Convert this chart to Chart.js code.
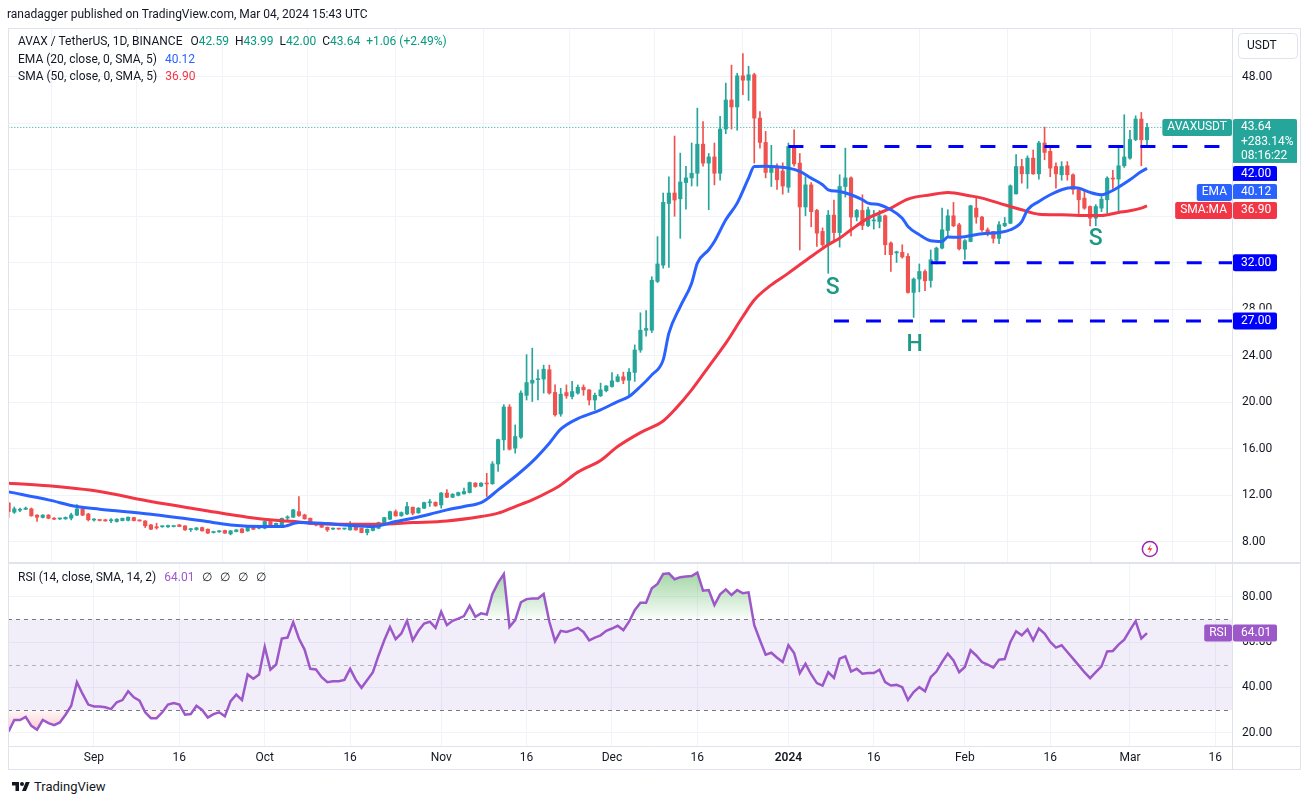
<!DOCTYPE html>
<html>
<head>
<meta charset="utf-8">
<script src="https://cdn.jsdelivr.net/npm/chart.js@4.4.1/dist/chart.umd.min.js"></script>
<style>
  html, body { margin: 0; padding: 0; background: #fff; }
  body { width: 1312px; height: 805px; position: relative; overflow: hidden; font-family: Roboto, "Open Sans", sans-serif; color: #131722; }
  canvas { position: absolute; left: 0; }
  #main { top: 0; }
  #rsi { top: 563px; }
  .txt { position: absolute; font-size: 12px; line-height: 16px; white-space: nowrap; }
  .txt span { margin-left: 6px; }
  .txt span.k { margin-left: 8px; }
  #logo { position: absolute; left: 12px; top: 779px; font-size: 13px; line-height: 16px; display: flex; align-items: center; gap: 4px; }
</style>
</head>
<body>
<canvas id="main" width="1312" height="563"></canvas>
<canvas id="rsi" width="1312" height="207"></canvas>

<div class="txt" style="left:7px;top:6px">ranadagger published on TradingView.com, Mar 04, 2024 15:43 UTC</div>
<div class="txt" id="lg1" style="left:18px;top:33px"></div>
<div class="txt" id="lg2" style="left:18px;top:51px"></div>
<div class="txt" id="lg3" style="left:18px;top:68px"></div>
<div class="txt" id="lgR" style="left:18px;top:569px"></div>
<div id="logo"><svg width="18" height="14" viewBox="0 0 36 28"><path d="M14 22H7V11H0V4h14v18zM28 22h-8l7.5-18h8L28 22z" fill="#131722"/><circle cx="20" cy="8" r="4" fill="#131722"/></svg><span>TradingView</span></div>

<script>
// AVAX / USDT daily, 17 Aug 2023 .. 4 Mar 2024 (index 0 = 17 Aug)
const opens = [
  11.35, 10.55, 10.72, 10.8, 10.84, 10.3, 10.1, 10.3, 10.03, 9.97,
  9.98, 10.04, 10.3, 10.84, 10.4, 9.88, 9.85, 9.9, 9.82, 9.75,
  9.83, 9.85, 10.09, 9.86, 9.8, 9.46, 9.3, 9.3, 9.29, 9.32,
  9.46, 9.37, 9.05, 9.06, 9.23, 9.09, 8.8, 8.86, 8.98, 8.69,
  8.89, 9.12, 8.95, 9.32, 9.17, 9.17, 9.75, 9.32, 9.3, 10.05,
  10.12, 10.6, 10.32, 10.03, 9.55, 9.55, 9.26, 9.1, 9.12, 9.11,
  9.03, 9.32, 9.18, 8.8, 8.98, 9.17, 9.6, 9.95, 10.6, 10.24,
  10.4, 10.98, 10.5, 10.9, 11.36, 11.4, 11.18, 12.2, 11.84, 12.0,
  12.13, 12.24, 13.05, 12.8, 13.05, 13.0, 14.7, 16.78, 19.6, 16.06,
  17.0, 20.6, 21.65, 21.95, 22.0, 22.8, 20.85, 19.0, 20.84, 20.5,
  20.79, 21.3, 21.07, 20.2, 20.56, 21.0, 21.36, 21.8, 22.2, 21.9,
  22.57, 24.5, 26.2, 26.2, 30.4, 31.8, 37.1, 38.0, 37.5, 38.9,
  39.3, 39.7, 42.2, 40.57, 41.1, 39.7, 43.5, 46.0, 45.4, 48.08,
  47.7, 48.17, 44.44, 42.35, 39.77, 40.2, 39.9, 38.5, 42.0, 40.57,
  36.8, 38.7, 36.5, 34.7, 33.55, 36.1, 34.6, 38.56, 39.3, 35.93,
  36.5, 35.2, 35.6, 35.55, 36.04, 33.7, 32.85, 32.9, 32.55, 29.45,
  30.6, 31.25, 30.48, 32.2, 33.26, 34.78, 36.04, 35.27, 33.17, 33.83,
  36.7, 35.93, 34.84, 34.7, 34.1, 35.18, 35.4, 37.93, 40.28, 39.65,
  41.0, 39.65, 42.3, 41.58, 40.28, 39.57, 40.34, 39.57, 38.3, 37.56,
  36.84, 35.84, 36.7, 37.42, 39.28, 39.2, 40.34, 41.0, 42.6, 44.36,
  42.59
];
const highs = [
  11.4, 11.0, 10.9, 11.0, 10.92, 10.35, 10.35, 10.35, 10.08, 10.05,
  10.15, 10.47, 11.2, 10.9, 10.45, 10.0, 9.9, 9.95, 10.0, 10.0,
  10.05, 10.15, 10.12, 9.9, 9.83, 9.5, 9.6, 9.38, 9.45, 9.36,
  9.5, 9.4, 9.17, 9.25, 9.28, 9.12, 8.92, 8.98, 9.02, 8.98,
  9.06, 9.15, 9.35, 9.36, 9.42, 9.8, 9.78, 9.62, 10.05, 10.25,
  10.8, 11.9, 10.38, 10.06, 9.6, 9.58, 9.28, 9.18, 9.16, 9.15,
  9.75, 9.35, 9.2, 9.12, 9.42, 9.7, 10.12, 10.65, 10.75, 10.58,
  11.4, 11.0, 10.95, 11.42, 11.65, 11.45, 12.25, 12.5, 12.15, 12.28,
  12.62, 13.15, 13.1, 13.1, 13.9, 14.9, 16.85, 19.8, 19.8, 18.06,
  21.0, 24.1, 24.66, 22.8, 23.2, 23.2, 21.5, 21.2, 21.5, 21.8,
  21.5, 21.5, 21.1, 20.8, 21.65, 21.45, 22.56, 22.4, 22.6, 22.9,
  24.94, 27.7, 27.9, 30.8, 34.25, 38.0, 39.4, 42.9, 41.43, 40.3,
  42.3, 45.3, 44.15, 41.4, 42.3, 44.6, 47.45, 49.0, 48.3, 50.0,
  48.9, 48.3, 45.0, 43.3, 42.1, 40.5, 40.6, 42.3, 43.44, 41.4,
  39.4, 38.9, 36.6, 35.0, 36.5, 37.4, 39.57, 41.86, 39.4, 36.6,
  37.85, 36.8, 36.5, 36.5, 36.1, 33.8, 33.0, 33.55, 32.8, 30.7,
  31.9, 31.4, 33.1, 33.35, 36.7, 36.56, 37.19, 35.4, 34.0, 36.95,
  37.56, 36.0, 35.0, 34.7, 35.55, 35.9, 38.7, 41.3, 40.9, 41.2,
  41.7, 42.45, 43.67, 41.9, 40.6, 40.7, 40.7, 39.65, 38.5, 38.3,
  36.9, 37.0, 37.7, 39.4, 39.94, 42.0, 44.73, 43.38, 44.64, 44.93,
  43.99
];
const lows = [
  10.1, 10.45, 10.6, 10.78, 10.2, 9.75, 10.05, 9.98, 9.9, 9.92,
  9.94, 9.89, 10.25, 10.25, 9.8, 9.78, 9.8, 9.78, 9.66, 9.7,
  9.8, 9.8, 9.8, 9.78, 9.23, 9.05, 9.1, 9.25, 9.25, 9.28,
  9.3, 8.98, 8.89, 9.0, 8.92, 8.72, 8.76, 8.82, 8.72, 8.6,
  8.85, 8.78, 8.9, 9.05, 9.12, 9.12, 9.3, 9.28, 9.25, 9.9,
  10.1, 10.2, 9.95, 9.5, 9.38, 9.24, 8.9, 9.05, 9.08, 9.07,
  9.0, 9.0, 8.78, 8.6, 8.95, 9.12, 9.55, 9.9, 10.2, 10.2,
  10.35, 10.32, 10.45, 10.85, 11.05, 11.05, 10.9, 11.8, 11.8, 11.95,
  12.1, 12.2, 12.7, 12.75, 11.9, 12.95, 14.05, 15.9, 15.9, 15.63,
  16.9, 20.2, 20.07, 20.2, 20.8, 20.7, 18.8, 18.8, 20.35, 20.3,
  20.7, 20.6, 19.78, 19.35, 20.5, 20.9, 21.3, 21.75, 21.6, 20.6,
  21.8, 24.3, 25.7, 26.0, 30.3, 31.54, 31.6, 36.0, 34.1, 36.6,
  38.6, 38.6, 40.3, 36.56, 38.7, 39.1, 43.1, 43.5, 43.4, 46.45,
  45.96, 40.57, 41.86, 39.3, 38.56, 38.3, 37.9, 38.05, 40.3, 33.1,
  36.04, 35.1, 33.4, 33.4, 31.1, 33.8, 33.35, 37.65, 34.3, 35.6,
  34.84, 35.1, 34.9, 35.0, 32.7, 31.25, 32.03, 32.4, 29.39, 27.3,
  29.5, 29.6, 29.9, 31.9, 33.2, 34.27, 35.1, 33.1, 32.3, 33.8,
  35.4, 34.7, 34.3, 33.7, 33.65, 35.1, 35.35, 37.9, 38.85, 38.4,
  39.6, 39.2, 40.86, 39.4, 38.42, 39.1, 39.1, 37.9, 36.13, 36.6,
  35.18, 35.18, 36.4, 36.27, 38.4, 36.27, 40.2, 40.9, 42.5, 40.34,
  42.0
];
const closes = [
  10.6, 10.84, 10.78, 10.9, 10.24, 10.12, 10.3, 10.03, 9.95, 10.0,
  10.1, 10.32, 10.84, 10.3, 9.9, 9.92, 9.84, 9.8, 9.85, 9.95,
  10.03, 10.12, 9.83, 9.8, 9.38, 9.09, 9.2, 9.33, 9.4, 9.34,
  9.32, 9.03, 9.1, 9.2, 8.95, 8.75, 8.89, 8.95, 8.75, 8.95,
  9.03, 8.8, 9.32, 9.09, 9.38, 9.75, 9.32, 9.6, 10.03, 10.15,
  10.75, 10.27, 9.98, 9.52, 9.45, 9.26, 9.03, 9.13, 9.1, 9.13,
  9.46, 9.03, 8.8, 9.09, 9.38, 9.66, 10.09, 10.6, 10.24, 10.52,
  11.04, 10.46, 10.9, 11.38, 11.4, 11.1, 12.2, 11.84, 12.1, 12.24,
  12.33, 13.1, 12.76, 13.05, 12.98, 14.7, 16.8, 19.6, 15.97, 17.06,
  20.8, 21.7, 21.9, 22.0, 22.85, 20.8, 18.93, 20.7, 20.56, 20.93,
  21.3, 21.07, 20.2, 20.6, 21.07, 21.4, 21.85, 22.2, 21.9, 22.6,
  24.5, 26.2, 26.35, 30.5, 31.9, 37.2, 38.0, 37.4, 38.95, 39.3,
  39.7, 42.2, 40.57, 41.1, 39.7, 43.5, 46.0, 45.4, 48.08, 47.7,
  48.17, 44.44, 42.35, 39.77, 40.2, 39.14, 38.6, 42.0, 40.5, 36.8,
  38.7, 36.4, 34.55, 33.55, 36.1, 34.6, 38.56, 39.3, 35.93, 36.5,
  35.2, 36.55, 35.65, 36.04, 33.55, 32.7, 32.95, 32.5, 29.45, 30.6,
  31.25, 30.45, 32.26, 33.26, 34.84, 36.04, 35.18, 33.2, 33.9, 36.9,
  35.93, 34.84, 34.5, 34.1, 35.27, 35.4, 38.62, 40.28, 39.65, 41.0,
  39.65, 42.3, 41.49, 40.14, 39.65, 40.28, 39.57, 38.3, 37.42, 36.7,
  35.84, 36.84, 37.47, 39.28, 39.2, 40.34, 41.1, 42.6, 44.36, 42.58,
  43.64
];

// RSI(14), one value per candle
const rsiVals = [
  20.5, 25.6, 25.6, 27, 23, 21.3, 25.6, 24.2, 23.3, 24.5,
  27.9, 31.9, 42.3, 37.1, 32.4, 31.6, 31.5, 31.2, 30.4, 33.4,
  34.4, 38.3, 35.6, 34.1, 29, 26.4, 26.4, 29, 32.4, 33.1,
  32.4, 27.9, 28.2, 31.9, 30, 26.7, 28.2, 29, 27.2, 33.9,
  36.8, 34.4, 45.7, 43.8, 45.7, 57.9, 47.8, 50.1, 61.6, 62,
  68.8, 61.6, 56.7, 48.2, 47.9, 44.5, 42.3, 42.7, 42.7, 43.3,
  48.2, 43.3, 39.8, 43.3, 46.7, 54.1, 60.8, 66.7, 61.3, 63.8,
  69.4, 60.8, 65, 68.2, 69, 66.3, 73.4, 67.5, 69.4, 70.4,
  71.5, 76.1, 71.2, 72.7, 72.2, 81.3, 86.3, 90.1, 66.7, 69.7,
  77.6, 79, 79.3, 79.3, 81.3, 69, 60.4, 65, 64.5, 65.3,
  66.3, 64.5, 60.8, 62, 63, 65, 66, 67.2, 65.3, 69,
  74.1, 77.4, 77.4, 83.8, 85.7, 90.1, 90.4, 87.8, 88.7, 89,
  89.2, 90.7, 82.7, 83, 76.4, 81.1, 83.3, 80.8, 83, 81.6,
  82, 67.5, 60.8, 54.4, 55.3, 53.1, 51.2, 58.6, 55.2, 46.3,
  50.4, 45.7, 41.9, 40.8, 46.7, 44.2, 52.7, 53.7, 47, 48.2,
  46, 46.3, 46.3, 47.8, 42.3, 40.8, 41.1, 40.1, 34.4, 37.9,
  40.1, 38.3, 44.5, 47, 51.2, 54.9, 51.9, 46.7, 49, 56.4,
  54.1, 51.2, 50.1, 48.7, 52.2, 52.5, 60.1, 64.8, 63, 65.6,
  60.8, 66, 63.8, 60.1, 57.6, 58.6, 55.6, 52.7, 49.7, 46.7,
  44.1, 46.7, 49.3, 55.9, 56.1, 58.9, 61.1, 65.3, 69.3, 61.6,
  64.01
];

// EMA 20 and SMA 50: [candle index, value]
const emaPts = [
  [0, 12.3], [7, 11.61], [12, 11.04], [16, 10.81], [25, 10.38], [34, 9.81], [39, 9.46], [45, 9.32],
  [48, 9.32], [51, 9.66], [55, 9.6], [59, 9.46], [64, 9.32], [68, 9.75], [71, 10.04], [74, 10.38],
  [77, 10.75], [80, 11.04], [83, 11.38], [84, 11.67], [86, 12.47], [89, 13.62], [92, 14.9], [95, 16.49],
  [97, 17.69], [100, 18.6], [104, 19.35], [107, 20.07], [109, 20.5], [111, 21.36], [113, 22.36], [115, 23.65],
  [116, 25.95], [118, 28.24], [120, 30.25], [121, 31.97], [123, 33.12], [124, 33.83], [126, 35.7], [128, 37.13],
  [130, 39.28], [131, 40.28], [133, 40.3], [135, 40.25], [137, 40.14], [139, 39.86], [141, 39.28], [143, 38.71],
  [144, 38.28], [146, 38.13], [148, 37.85], [150, 37.42], [151, 37.13], [153, 36.99], [155, 36.56], [157, 35.84],
  [158, 35.12], [160, 34.41], [162, 33.89], [164, 33.83], [165, 34.21], [167, 34.2], [171, 34.5], [174, 34.61],
  [176, 34.84], [178, 35.55], [179, 36.56], [181, 37.27], [183, 37.85], [185, 38.28], [187, 38.48], [188, 38.42],
  [190, 38.05], [192, 37.85], [193, 37.99], [195, 38.51], [197, 39.14], [199, 39.85], [200, 40.12]
];
const smaPts = [
  [0, 13.05], [7, 12.82], [16, 12.33], [25, 11.47], [34, 10.75], [42, 10.12], [48, 9.81], [51, 9.72],
  [53, 9.6], [59, 9.52], [65, 9.52], [71, 9.66], [77, 9.8], [83, 10.18], [86, 10.47], [89, 11.04],
  [92, 11.61], [95, 12.33], [97, 12.9], [100, 14.0], [104, 15.0], [107, 16.2], [111, 17.4], [115, 18.4],
  [117, 19.35], [120, 21.07], [123, 23.08], [126, 25.09], [129, 27.38], [131, 28.8], [134, 30.1], [137, 31.11],
  [141, 32.54], [144, 33.55], [146, 34.12], [148, 34.84], [151, 35.84], [155, 36.7], [158, 37.48], [162, 37.85],
  [165, 38.05], [169, 37.75], [171, 37.56], [174, 37.13], [178, 36.56], [181, 36.18], [185, 36.13], [188, 36.07],
  [192, 36.07], [195, 36.33], [197, 36.47], [199, 36.7], [200, 36.9]
];

// horizontal levels drawn on the chart and where they start
const levels = [42, 32, 27];
const levelFrom = [137, 162, 145];

// axis ticks
const priceTicks = [8, 12, 16, 20, 24, 28, 32, 36, 40, 44, 48];
const rsiTicks = [20, 40, 60, 80];
const tickIdx = [15, 30, 45, 60, 76, 91, 106, 121, 137, 152, 168, 183, 197, 212];
const tickText = ['Sep', '16', 'Oct', '16', 'Nov', '16', 'Dec', '16', '2024', '16', 'Feb', '16', 'Mar', '16'];

// head & shoulders labels
const patText = ['S', 'H', 'S'];
const patIdx = [144.8, 159.2, 191];
const patPrice = [29.8, 24.9, 34.0];

const lastInfo = ['+283.14%', '08:16:22'];

const FONT = 'Roboto, "Open Sans", sans-serif';
const UP = '#26a69a', DOWN = '#ef5350';
const EMA_C = '#2962ff', SMA_C = '#f23645', LVL_C = '#0000ff', RSI_C = '#9c57c9';
const GRID = '#f0f3fa', FRAME = '#e0e3eb';
const X_MIN = -0.105, X_MAX = 214.93;

Chart.defaults.font.family = FONT;
Chart.defaults.font.size = 12;
Chart.defaults.color = '#131722';
Chart.defaults.animation = false;

const last = closes.length - 1;

function xAxis(showLabels) {
  return {
    type: 'linear', min: X_MIN, max: X_MAX, offset: false,
    afterBuildTicks: s => { s.ticks = tickIdx.map(v => ({ value: v })); },
    afterFit: s => { s.height = showLabels ? 24 : 0; s.paddingLeft = 0; s.paddingRight = 0; },
    grid: { color: GRID, drawTicks: false },
    border: { display: false },
    ticks: {
      display: showLabels, autoSkip: false, maxRotation: 0, minRotation: 0, padding: 5,
      callback: v => tickText[tickIdx.indexOf(v)] ?? '',
      font: c => ({ family: FONT, size: 12, weight: (c.tick && tickText[tickIdx.indexOf(c.tick.value)] === '2024') ? '600' : '400' })
    }
  };
}

function yAxis(min, max, ticks) {
  return {
    type: 'linear', position: 'right', min: min, max: max,
    afterBuildTicks: s => { s.ticks = ticks.map(v => ({ value: v })); },
    afterFit: s => { s.width = 80; s.paddingTop = 0; s.paddingBottom = 0; },
    grid: { color: GRID, drawTicks: false },
    border: { display: false },
    ticks: { padding: 10, callback: v => v.toFixed(2), color: '#131722' }
  };
}

function roundBox(ctx, x, y, w, h, r, fill) {
  ctx.fillStyle = fill;
  ctx.beginPath();
  if (ctx.roundRect) ctx.roundRect(x, y, w, h, r); else ctx.rect(x, y, w, h);
  ctx.fill();
}

// axis badges: stacked so they never overlap
function drawBadges(chart, items) {
  const ctx = chart.ctx, ca = chart.chartArea, ys = chart.scales.y;
  ctx.save();
  ctx.font = '12px ' + FONT;
  ctx.textBaseline = 'middle';
  let prevBottom = -1e9;
  items.sort((a, b) => b.v - a.v).forEach(it => {
    const lineH = 14.5;
    const h = 17 + (it.lines.length - 1) * lineH;
    let top = ys.getPixelForValue(it.v) - 8.5;
    if (top < prevBottom + 1) top = prevBottom + 1;
    prevBottom = top + h;
    const x0 = ca.right + 1;
    const w = it.lines.length > 1 ? 64 : 44;
    // hide axis labels that sit right under a badge
    ctx.fillStyle = '#fff';
    ctx.fillRect(x0, top - 3, 66, h + 3);
    roundBox(ctx, x0, top, w, h, 2, it.bg);
    ctx.fillStyle = '#fff';
    ctx.textAlign = 'left';
    it.lines.forEach((t, j) => ctx.fillText(t, x0 + 8, top + 8.5 + j * lineH));
    if (it.tag) {
      const tw = ctx.measureText(it.tag).width + 10;
      roundBox(ctx, ca.right - tw, top, tw, 17, 2, it.bg);
      ctx.fillStyle = '#fff';
      ctx.textAlign = 'center';
      ctx.fillText(it.tag, ca.right - tw / 2, top + 8.5);
    }
  });
  ctx.restore();
}

function frameLines(chart, extra) {
  const ctx = chart.ctx, ca = chart.chartArea;
  ctx.save();
  ctx.strokeStyle = FRAME;
  ctx.lineWidth = 1;
  ctx.beginPath();
  [8.5, ca.right + 0.5, 1300.5].forEach(x => { ctx.moveTo(x, extra.top); ctx.lineTo(x, extra.bottom); });
  extra.h.forEach(y => { ctx.moveTo(8, y); ctx.lineTo(1301, y); });
  ctx.stroke();
  ctx.restore();
}

// ---------- main price pane ----------
const bodyData = closes.map((c, k) => ({ x: k, y: [opens[k], c] }));
const wickData = closes.map((c, k) => ({ x: k, y: [lows[k], highs[k]] }));
const candleCol = closes.map((c, k) => c >= opens[k] ? UP : DOWN);

const levelSets = levels.map((v, i) => ({
  type: 'line', data: [{ x: levelFrom[i], y: v }, { x: X_MAX + 2, y: v }],
  borderColor: LVL_C, borderWidth: 3, borderDash: [15, 17], pointRadius: 0, order: 0, clip: 0
}));

const mainPlugin = {
  id: 'mainDecor',
  afterDatasetsDraw(chart) {
    const ctx = chart.ctx, xs = chart.scales.x, ys = chart.scales.y;
    ctx.save();
    ctx.fillStyle = '#1e9986';
    ctx.font = '500 23px ' + FONT;
    ctx.textAlign = 'center';
    ctx.textBaseline = 'middle';
    patText.forEach((t, i) => ctx.fillText(t, xs.getPixelForValue(patIdx[i]), ys.getPixelForValue(patPrice[i])));
    // event marker under the last candle
    const cx = xs.getPixelForValue(last + 0.5), cy = chart.chartArea.bottom - 13;
    ctx.beginPath(); ctx.arc(cx, cy, 7.5, 0, Math.PI * 2);
    ctx.fillStyle = '#fff'; ctx.fill();
    ctx.strokeStyle = '#9c27b0'; ctx.lineWidth = 1.5; ctx.stroke();
    ctx.beginPath();
    ctx.moveTo(cx + 1.5, cy - 5); ctx.lineTo(cx - 2.5, cy + 0.8); ctx.lineTo(cx + 0.3, cy + 0.8);
    ctx.lineTo(cx - 1.5, cy + 5); ctx.lineTo(cx + 2.5, cy - 0.8); ctx.lineTo(cx - 0.3, cy - 0.8);
    ctx.closePath(); ctx.fillStyle = '#f23645'; ctx.fill();
    ctx.restore();
  },
  afterDraw(chart) {
    const ctx = chart.ctx, ca = chart.chartArea;
    frameLines(chart, { top: ca.top, bottom: chart.height, h: [ca.top + 0.5, chart.height - 0.5] });
    // currency box
    ctx.save();
    ctx.beginPath();
    if (ctx.roundRect) ctx.roundRect(1238.5, 33.5, 59, 25, 4); else ctx.rect(1238.5, 33.5, 59, 25);
    ctx.fillStyle = '#fff'; ctx.fill();
    ctx.strokeStyle = FRAME; ctx.lineWidth = 1; ctx.stroke();
    ctx.fillStyle = '#131722'; ctx.font = '12px ' + FONT; ctx.textBaseline = 'middle'; ctx.textAlign = 'left';
    ctx.fillText('USDT', 1247, 46);
    ctx.restore();
    const ema = emaPts[emaPts.length - 1][1], sma = smaPts[smaPts.length - 1][1];
    const items = [
      { v: closes[last], lines: [closes[last].toFixed(2)].concat(lastInfo), bg: UP, tag: 'AVAXUSDT' },
      { v: ema, lines: [ema.toFixed(2)], bg: EMA_C, tag: 'EMA' },
      { v: sma, lines: [sma.toFixed(2)], bg: SMA_C, tag: 'SMA:MA' }
    ];
    levels.forEach(v => items.push({ v: v, lines: [v.toFixed(2)], bg: LVL_C }));
    drawBadges(chart, items);
  }
};

new Chart(document.getElementById('main'), {
  type: 'bar',
  data: {
    datasets: levelSets.concat([
      { type: 'line', data: emaPts.map(p => ({ x: p[0], y: p[1] })), borderColor: EMA_C, borderWidth: 3, pointRadius: 0, cubicInterpolationMode: 'monotone', order: 1, clip: 0 },
      { type: 'line', data: smaPts.map(p => ({ x: p[0], y: p[1] })), borderColor: SMA_C, borderWidth: 3, pointRadius: 0, cubicInterpolationMode: 'monotone', order: 2, clip: 0 },
      { type: 'line', data: [{ x: X_MIN - 1, y: closes[last] }, { x: X_MAX + 1, y: closes[last] }], borderColor: UP, borderWidth: 1, borderDash: [1, 2], pointRadius: 0, order: 3, clip: 0 },
      { type: 'bar', data: bodyData, backgroundColor: candleCol, barThickness: 3.5, minBarLength: 1, grouped: false, order: 4, clip: 0 },
      { type: 'bar', data: wickData, backgroundColor: candleCol, barThickness: 1, minBarLength: 1, grouped: false, order: 5, clip: 0 }
    ])
  },
  options: {
    responsive: false,
    events: [],
    layout: { padding: { left: 8, top: 28, right: 0, bottom: 1 } },
    plugins: { legend: { display: false }, tooltip: { enabled: false } },
    scales: { x: xAxis(false), y: yAxis(6.27, 52.19, priceTicks) }
  },
  plugins: [mainPlugin]
});

// ---------- RSI pane ----------
const rsiData = rsiVals.map((v, k) => ({ x: k, y: v }));
const rsiPlugin = {
  id: 'rsiDecor',
  beforeDatasetsDraw(chart) {
    const ctx = chart.ctx, ca = chart.chartArea, ys = chart.scales.y;
    const y70 = ys.getPixelForValue(70), y50 = ys.getPixelForValue(50), y30 = ys.getPixelForValue(30);
    ctx.save();
    ctx.fillStyle = 'rgba(126,87,194,0.1)';
    ctx.fillRect(ca.left, y70, ca.width, y30 - y70);
    ctx.lineWidth = 1;
    ctx.setLineDash([4, 4]);
    ctx.strokeStyle = '#787b86';
    ctx.beginPath();
    [y70, y30].forEach(y => { ctx.moveTo(ca.left, Math.round(y) + 0.5); ctx.lineTo(ca.right, Math.round(y) + 0.5); });
    ctx.stroke();
    ctx.strokeStyle = 'rgba(120,123,134,0.5)';
    ctx.beginPath(); ctx.moveTo(ca.left, Math.round(y50) + 0.5); ctx.lineTo(ca.right, Math.round(y50) + 0.5); ctx.stroke();
    ctx.restore();
  },
  afterDraw(chart) {
    const ca = chart.chartArea;
    frameLines(chart, { top: 0, bottom: chart.height, h: [0.5, ca.bottom + 0.5, chart.height - 0.5] });
    const v = rsiVals[rsiVals.length - 1];
    drawBadges(chart, [{ v: v, lines: [v.toFixed(2)], bg: RSI_C, tag: 'RSI' }]);
  }
};

const rsiChart = new Chart(document.getElementById('rsi'), {
  type: 'line',
  data: {
    datasets: [
      { data: rsiData, borderColor: RSI_C, borderWidth: 2.5, pointRadius: 0, fill: false, order: 0, clip: 0 },
      { data: rsiData, borderColor: 'rgba(0,0,0,0)', borderWidth: 0, pointRadius: 0, order: 1, clip: 0,
        fill: { target: { value: 70 }, above: 'rgba(76,175,80,0.3)', below: 'rgba(0,0,0,0)' } },
      { data: rsiData, borderColor: 'rgba(0,0,0,0)', borderWidth: 0, pointRadius: 0, order: 2, clip: 0,
        fill: { target: { value: 30 }, above: 'rgba(0,0,0,0)', below: 'rgba(242,54,69,0.2)' } }
    ]
  },
  options: {
    responsive: false,
    events: [],
    layout: { padding: { left: 8, top: 1, right: 0, bottom: 0 } },
    plugins: { legend: { display: false }, tooltip: { enabled: false } },
    scales: { x: xAxis(true), y: yAxis(14.1, 94.4, rsiTicks) }
  },
  plugins: [rsiPlugin]
});

// gradient fills for the overbought / oversold areas
(function () {
  const ctx = rsiChart.ctx, ca = rsiChart.chartArea, ys = rsiChart.scales.y;
  const gUp = ctx.createLinearGradient(0, ca.top, 0, ys.getPixelForValue(70));
  gUp.addColorStop(0, 'rgba(76,175,80,0.6)');
  gUp.addColorStop(1, 'rgba(76,175,80,0.03)');
  const gDn = ctx.createLinearGradient(0, ys.getPixelForValue(30), 0, ca.bottom);
  gDn.addColorStop(0, 'rgba(242,54,69,0.03)');
  gDn.addColorStop(1, 'rgba(242,54,69,0.45)');
  rsiChart.data.datasets[1].fill.above = gUp;
  rsiChart.data.datasets[2].fill.below = gDn;
  rsiChart.update('none');
})();

// ---------- legends ----------
const chg = closes[last] - closes[last - 1];
const pct = chg / closes[last - 1] * 100;
const valCol = closes[last] >= opens[last] ? '#089981' : '#f23645';
const sign = n => (n >= 0 ? '+' : '') + n.toFixed(2);
const v = (t, c) => `<b style="font-weight:400;color:${c}">${t}</b>`;
document.getElementById('lg1').innerHTML =
  'AVAX / TetherUS, 1D, BINANCE' +
  `<span class="k">O${v(opens[last].toFixed(2), valCol)}</span>` +
  `<span>H${v(highs[last].toFixed(2), valCol)}</span>` +
  `<span>L${v(lows[last].toFixed(2), valCol)}</span>` +
  `<span>C${v(closes[last].toFixed(2), valCol)}</span>` +
  `<span>${v(sign(chg) + ' (' + sign(pct) + '%)', valCol)}</span>`;
document.getElementById('lg2').innerHTML =
  `EMA (20, close, 0, SMA, 5)<span class="k">${v(emaPts[emaPts.length - 1][1].toFixed(2), EMA_C)}</span>`;
document.getElementById('lg3').innerHTML =
  `SMA (50, close, 0, SMA, 5)<span class="k">${v(smaPts[smaPts.length - 1][1].toFixed(2), SMA_C)}</span>`;
document.getElementById('lgR').innerHTML =
  `RSI (14, close, SMA, 14, 2)<span class="k">${v(rsiVals[rsiVals.length - 1].toFixed(2), RSI_C)}</span>` +
  '<span class="k">∅</span><span class="k">∅</span><span class="k">∅</span><span class="k">∅</span>';
</script>
</body>
</html>
